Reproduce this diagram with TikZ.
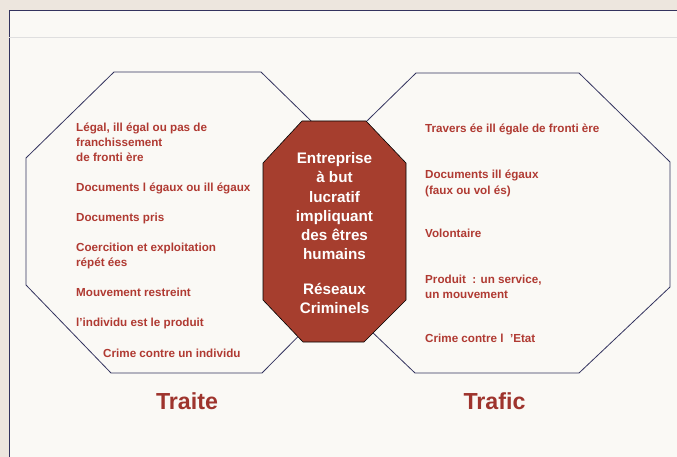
\documentclass[tikz,border=0pt]{standalone}
\usepackage{fontspec}
\setmainfont{Liberation Sans}
\definecolor{paper}{HTML}{EDE6DE}
\definecolor{sheet}{HTML}{FAF9F5}
\definecolor{rust}{HTML}{A63E2E}
\definecolor{itemred}{HTML}{B03A32}
\definecolor{navy}{HTML}{33335E}
\tikzset{
  item/.style={text=itemred,font=\bfseries\fontsize{11.7}{15}\selectfont,inner sep=0pt,anchor=base west},
  title/.style={text=itemred!90!black,font=\bfseries\fontsize{23.3}{26}\selectfont,inner sep=0pt},
  octo/.style={draw=navy,line width=0.8pt,fill=sheet}
}
\begin{document}
\begin{tikzpicture}[x=1bp,y=-1bp]
		\useasboundingbox (0,0) rectangle (677,457);
		\fill[paper] (0,0) rectangle (677,457);
		\fill[sheet] (9,10) rectangle (677,457);
		\draw[navy,line width=0.8pt] (9,457)--(9,10)--(677,10);
		\draw[gray!25] (9,37)--(677,37);
		% octagons
		\path[octo] (114,72)--(261,72)--(349,158)--(349,285)--(262,373)--(111,373)--(26,285)--(26,158)--cycle;
		\path[octo] (416,73)--(579,73)--(670,162)--(670,287)--(579,373)--(415,373)--(325,287)--(325,162)--cycle;
		\fill[rust,draw=black,line width=0.6pt] (302,121)--(366,121)--(406,163)--(406,300)--(364,342)--(303,342)--(263,300)--(263,163)--cycle;
		% traite
		\foreach \y/\t [count=\i] in {132/{Légal, ill égal ou pas de},147/franchissement,162/de fronti ère,
			192/Documents l égaux ou ill égaux,222/Documents pris,252/Coercition et exploitation,
			267/répét ées,297/Mouvement restreint,327/l’individu est le produit}
			\node[item] (l\i) at (76,\y) {\t};
		\node[item] (l10) at (103,357) {Crime contre un individu};
		% trafic
		\foreach \y/\t [count=\i] in {133/Travers ée ill égale de fronti ère,179/Documents ill égaux,
			195/(faux ou vol és),238/Volontaire,284/{Produit \ : un service,},299/un mouvement,342/Crime contre l \ ’Etat}
			\node[item] (r\i) at (425,\y) {\t};
		\node[text=white,font=\bfseries\fontsize{15.3}{19.3}\selectfont,align=center,inner sep=0pt] (mid) at (334.5,233)
			{Entreprise\\à but\\lucratif\\impliquant\\des êtres\\humains\\[15bp]Réseaux\\Criminels};
		\node[title] (traite) at (187,401) {Traite};
		\node[title] (trafic) at (494.5,401) {Trafic};
\end{tikzpicture}
\end{document}
